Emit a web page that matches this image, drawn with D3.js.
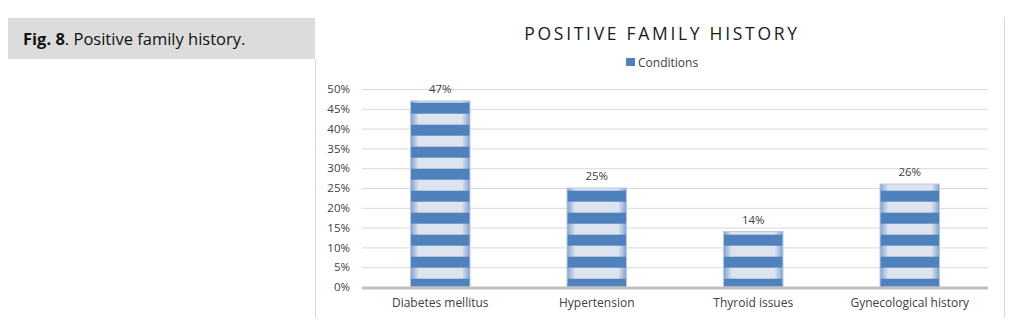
<!DOCTYPE html>
<html>
<head>
<meta charset="utf-8">
<script src="https://cdn.jsdelivr.net/npm/d3@7"></script>
<style>
  body { margin: 0; background: #fff; }
  svg { display: block; font-family: 'Open Sans', sans-serif; }
</style>
</head>
<body>
<div id="chart"></div>
<script>
// family history data
const conditions = ['Diabetes mellitus', 'Hypertension', 'Thyroid issues', 'Gynecological history'];
const percents = [47, 25, 14, 26];
const yTicks = [0, 5, 10, 15, 20, 25, 30, 35, 40, 45, 50];

const width = 1013;
const height = 327;

const svg = d3
  .select('#chart')
  .append('svg')
  .attr('width', width)
  .attr('height', height);

// caption box
svg.append('rect')
  .attr('x', 8).attr('y', 18)
  .attr('width', 307).attr('height', 41)
  .attr('fill', '#dcdcdc');

const caption = svg.append('text')
  .attr('x', 23).attr('y', 45)
  .attr('font-size', 16.5)
  .attr('fill', '#111');
caption.append('tspan').attr('font-weight', 'bold').text('Fig. 8');
caption.append('tspan').text('. Positive family history.');

// chart frame sides
svg.append('line')
  .attr('x1', 315.5).attr('x2', 315.5)
  .attr('y1', 59).attr('y2', 318)
  .attr('stroke', '#d9d9d9').attr('stroke-width', 1.2);
svg.append('line')
  .attr('x1', 1004.5).attr('x2', 1004.5)
  .attr('y1', 17).attr('y2', 318)
  .attr('stroke', '#d9d9d9').attr('stroke-width', 1.2);

// title
svg.append('text')
  .attr('x', 662).attr('y', 40)
  .attr('text-anchor', 'middle')
  .attr('font-size', 17.5)
  .attr('letter-spacing', 2.7)
  .attr('fill', '#1a1a1a')
  .text('POSITIVE FAMILY HISTORY');

// legend
svg.append('rect')
  .attr('x', 626).attr('y', 58)
  .attr('width', 9).attr('height', 8)
  .attr('fill', '#4f81bd');
svg.append('text')
  .attr('x', 638).attr('y', 66.5)
  .attr('font-size', 12)
  .attr('fill', '#404040')
  .text('Conditions');

//scales
const x = d3.scaleBand().domain(conditions).range([362, 988]).paddingInner(0.62).paddingOuter(0.31);
const y = d3.scaleLinear().domain([0, 50]).range([287, 89]);

const defs = svg.append('defs');

// striped fill, anchored to the plot so stripes line up across bars
const stripes = defs.append('pattern')
  .attr('id', 'stripes')
  .attr('patternUnits', 'userSpaceOnUse')
  .attr('x', 0).attr('y', 102.7)
  .attr('width', 20).attr('height', 22);
stripes.append('rect').attr('width', 20).attr('height', 22).attr('fill', '#dde4ef');
stripes.append('rect').attr('width', 20).attr('height', 11).attr('fill', '#4f81bd');

// soft blue edges on the light bands
const edge = defs.append('linearGradient').attr('id', 'edge');
[[0, 0.65], [0.14, 0], [0.86, 0], [1, 0.65]].forEach(([o, a]) => {
  edge.append('stop')
    .attr('offset', o)
    .attr('stop-color', '#4f81bd')
    .attr('stop-opacity', a);
});

// gridlines
svg.append('g')
  .selectAll('line')
  .data(yTicks.filter((d) => d > 0))
  .join('line')
  .attr('x1', 362).attr('x2', 988)
  .attr('y1', (d) => y(d) + 0.5).attr('y2', (d) => y(d) + 0.5)
  .attr('stroke', '#d9d9d9');

// y axis labels
const yAxis = d3.axisLeft(y).tickValues(yTicks).tickSize(0).tickPadding(0).tickFormat((d) => d + '%');
const yAxisGroup = svg.append('g').attr('transform', 'translate(350, 0)').call(yAxis);
yAxisGroup.select('.domain').remove();
yAxisGroup.selectAll('text')
  .attr('font-family', "'Open Sans', sans-serif")
  .attr('font-size', 11.5)
  .attr('fill', '#404040');

// bars
const bars = svg.append('g')
  .selectAll('g')
  .data(conditions)
  .join('g');

bars.append('rect')
  .attr('x', (d) => x(d))
  .attr('y', (d, i) => y(percents[i]))
  .attr('width', x.bandwidth())
  .attr('height', (d, i) => y(0) - y(percents[i]))
  .attr('fill', 'url(#stripes)');

bars.append('rect')
  .attr('x', (d) => x(d))
  .attr('y', (d, i) => y(percents[i]))
  .attr('width', x.bandwidth())
  .attr('height', (d, i) => y(0) - y(percents[i]))
  .attr('fill', 'url(#edge)')
  .attr('stroke', '#b7c8df')
  .attr('stroke-width', 1);

// value labels
bars.append('text')
  .attr('x', (d) => x(d) + x.bandwidth() / 2)
  .attr('y', (d, i) => y(percents[i]) - 8)
  .attr('text-anchor', 'middle')
  .attr('font-size', 11.5)
  .attr('fill', '#404040')
  .text((d, i) => percents[i] + '%');

// x axis
const xAxis = d3.axisBottom(x).tickSize(0).tickPadding(11);
const xAxisGroup = svg.append('g').attr('transform', `translate(0, ${y(0)})`).call(xAxis);
xAxisGroup.select('.domain')
  .attr('stroke', '#bfbfbf')
  .attr('stroke-width', 3)
  .attr('d', 'M362,1V1H988');
xAxisGroup.selectAll('text')
  .attr('font-family', "'Open Sans', sans-serif")
  .attr('font-size', 12)
  .attr('fill', '#404040');
</script>
</body>
</html>
